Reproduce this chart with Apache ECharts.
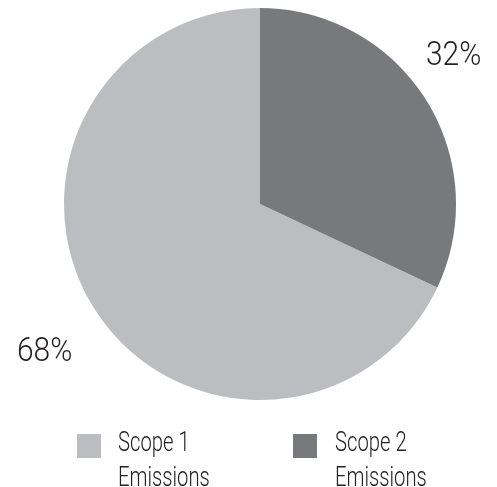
<!DOCTYPE html>
<html>
<head>
<meta charset="utf-8">
<script src="https://cdn.jsdelivr.net/npm/echarts@6/dist/echarts.min.js"></script>
<style>
  html, body { margin: 0; padding: 0; background: #fff; }
  #chart { width: 497px; height: 487px; }
</style>
</head>
<body>
<div id="chart"></div>
<script>
// Emissions split by scope
const categories = ['Scope 1 Emissions', 'Scope 2 Emissions'];
const legendLines = [['Scope 1', 'Emissions'], ['Scope 2', 'Emissions']];
const values = [68, 32];
const colors = ['#bcbdc0', '#78797c'];

const FONT = "Roboto, 'Liberation Sans', sans-serif";
const INK = '#231f20';
const total = values.reduce((a, b) => a + b, 0);
// Scope 1 ends exactly at twelve o'clock, Scope 2 runs clockwise from there
const startAngle = 90 + values[0] / total * 360;

// narrow text: a light face squeezed horizontally
function narrowText(str, x, y, size, sx) {
  return {
    type: 'text',
    x: x, y: y,
    scaleX: sx,
    silent: true,
    style: {
      text: str,
      x: 0, y: 0,
      fill: INK,
      font: '300 ' + size + 'px ' + FONT,
      align: 'left',
      verticalAlign: 'middle'
    }
  };
}

// percentage labels, anchored at their left edge / vertical middle
const labelAnchors = [[17, 352], [426, 56]];
const legendBoxes = [[77, 434], [293, 434]];
const legendTextX = [118, 335];

const graphics = [];
values.forEach((v, i) => {
  graphics.push(narrowText(v + '%', labelAnchors[i][0], labelAnchors[i][1], 34, 0.88));
});
categories.forEach((c, i) => {
  graphics.push({
    type: 'rect',
    silent: true,
    shape: { x: legendBoxes[i][0], y: legendBoxes[i][1], width: 24, height: 24 },
    style: { fill: colors[i] }
  });
  legendLines[i].forEach((line, k) => {
    graphics.push(narrowText(line, legendTextX[i], 444 + k * 35, 27, 0.75));
  });
});

const chart = echarts.init(document.getElementById('chart'));
chart.setOption({
  animation: false,
  backgroundColor: '#ffffff',
  series: [{
    type: 'pie',
    center: [260, 204],
    radius: [0, 196],
    startAngle: startAngle,
    clockwise: true,
    silent: true,
    itemStyle: { borderWidth: 0 },
    label: { show: false },
    labelLine: { show: false },
    data: categories.map((name, i) => ({
      name: name,
      value: values[i],
      itemStyle: { color: colors[i] }
    }))
  }],
  graphic: graphics
});
</script>
</body>
</html>
